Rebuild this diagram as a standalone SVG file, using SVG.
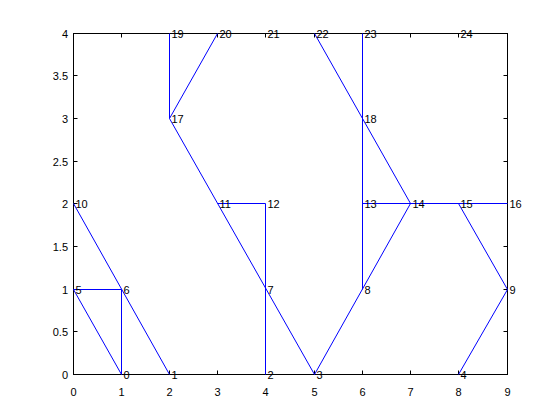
<svg xmlns="http://www.w3.org/2000/svg" width="560" height="420" viewBox="0 0 560 420">
<style>
text{font-family:"Liberation Sans",Arial,sans-serif;font-size:11px;fill:#000}
.xl{text-anchor:middle}
.yl{text-anchor:end}
.ax{fill:none;stroke:#000;stroke-width:1}
.e{stroke:#0000ff;stroke-width:1;fill:none}
</style>
<rect width="560" height="420" fill="#fff"/>
<g id="axes">
<rect class="ax" x="73.5" y="33.5" width="434" height="341"/>
<path class="ax" d="M121.5 374.5v-4M169.5 374.5v-4M217.5 374.5v-4M265.5 374.5v-4M314.5 374.5v-4M362.5 374.5v-4M410.5 374.5v-4M458.5 374.5v-4M121.5 33.5v4M169.5 33.5v4M217.5 33.5v4M265.5 33.5v4M314.5 33.5v4M362.5 33.5v4M410.5 33.5v4M458.5 33.5v4M73.5 331.5h4M73.5 289.5h4M73.5 246.5h4M73.5 203.5h4M73.5 161.5h4M73.5 118.5h4M73.5 75.5h4M507.5 331.5h-4M507.5 289.5h-4M507.5 246.5h-4M507.5 203.5h-4M507.5 161.5h-4M507.5 118.5h-4M507.5 75.5h-4"/>
<text class="xl" x="73.5" y="396">0</text>
<text class="xl" x="121.5" y="396">1</text>
<text class="xl" x="169.5" y="396">2</text>
<text class="xl" x="217.5" y="396">3</text>
<text class="xl" x="265.5" y="396">4</text>
<text class="xl" x="314.5" y="396">5</text>
<text class="xl" x="362.5" y="396">6</text>
<text class="xl" x="410.5" y="396">7</text>
<text class="xl" x="458.5" y="396">8</text>
<text class="xl" x="507.5" y="396">9</text>
<text class="yl" x="68" y="378.5">0</text>
<text class="yl" x="68" y="335.5">0.5</text>
<text class="yl" x="68" y="293.5">1</text>
<text class="yl" x="68" y="250.5">1.5</text>
<text class="yl" x="68" y="207.5">2</text>
<text class="yl" x="68" y="165.5">2.5</text>
<text class="yl" x="68" y="122.5">3</text>
<text class="yl" x="68" y="79.5">3.5</text>
<text class="yl" x="68" y="37.5">4</text>
</g>
<g id="connectors">
<path class="e" d="M73.5 289.5L121.5 374.5M73.5 289.5H121.5V374.5M73.5 203.5L169.5 374.5M169.5 118.5L314.5 374.5M217.5 203.5H265.5V374.5M169.5 33.5V118.5L217.5 33.5M314.5 33.5L410.5 203.5M362.5 33.5V289.5M362.5 203.5H507.5M410.5 203.5L314.5 374.5M458.5 203.5L507.5 289.5L458.5 374.5"/>
</g>
<g id="n0"><text x="123.5" y="378.5">0</text></g>
<g id="n1"><text x="171.5" y="378.5">1</text></g>
<g id="n2"><text x="267.5" y="378.5">2</text></g>
<g id="n3"><text x="316.5" y="378.5">3</text></g>
<g id="n4"><text x="460.5" y="378.5">4</text></g>
<g id="n5"><text x="75.5" y="293.5">5</text></g>
<g id="n6"><text x="123.5" y="293.5">6</text></g>
<g id="n7"><text x="267.5" y="293.5">7</text></g>
<g id="n8"><text x="364.5" y="293.5">8</text></g>
<g id="n9"><text x="509.5" y="293.5">9</text></g>
<g id="n10"><text x="75.5" y="207.5">10</text></g>
<g id="n11"><text x="219.5" y="207.5">11</text></g>
<g id="n12"><text x="267.5" y="207.5">12</text></g>
<g id="n13"><text x="364.5" y="207.5">13</text></g>
<g id="n14"><text x="412.5" y="207.5">14</text></g>
<g id="n15"><text x="460.5" y="207.5">15</text></g>
<g id="n16"><text x="509.5" y="207.5">16</text></g>
<g id="n17"><text x="171.5" y="122.5">17</text></g>
<g id="n18"><text x="364.5" y="122.5">18</text></g>
<g id="n19"><text x="171.5" y="37.5">19</text></g>
<g id="n20"><text x="219.5" y="37.5">20</text></g>
<g id="n21"><text x="267.5" y="37.5">21</text></g>
<g id="n22"><text x="316.5" y="37.5">22</text></g>
<g id="n23"><text x="364.5" y="37.5">23</text></g>
<g id="n24"><text x="460.5" y="37.5">24</text></g>
</svg>
